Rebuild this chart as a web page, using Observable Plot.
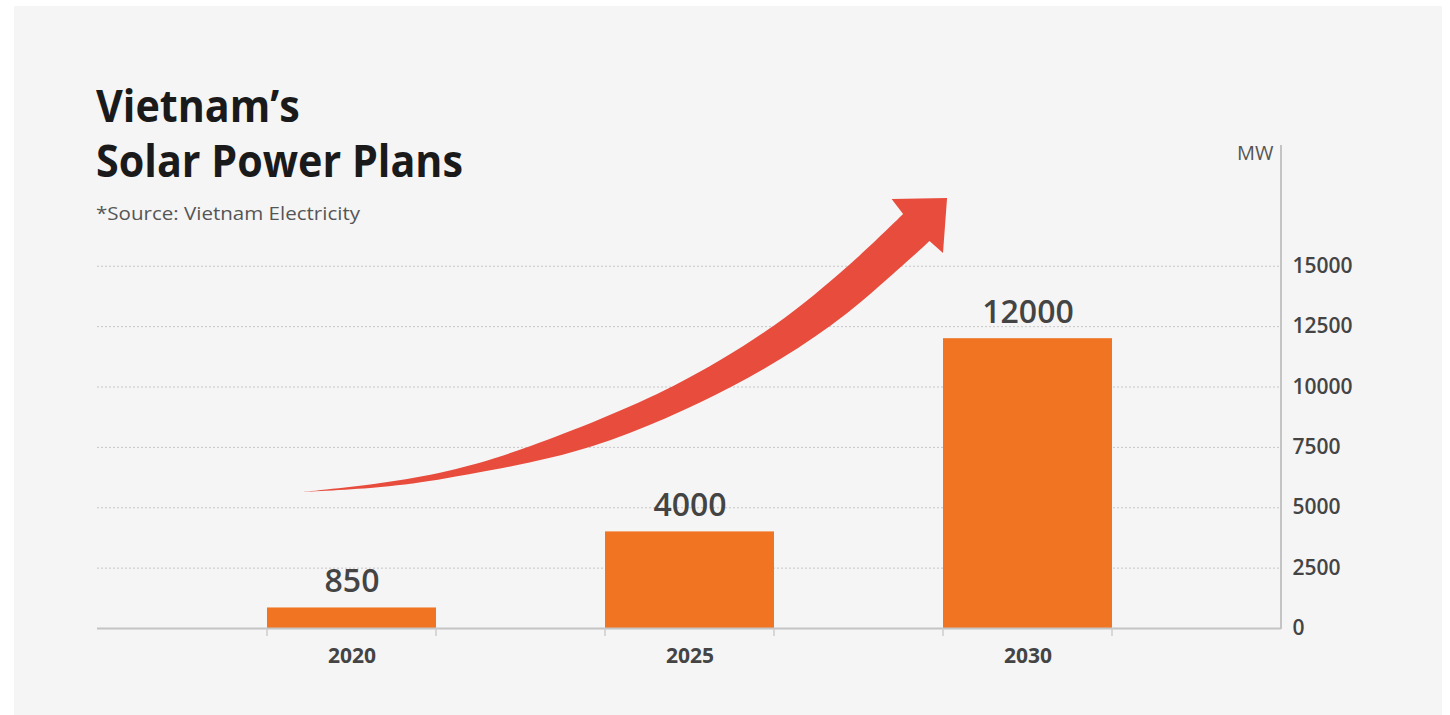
<!DOCTYPE html>
<html>
<head>
<meta charset="utf-8">
<script src="https://cdn.jsdelivr.net/npm/d3@7"></script>
<script src="https://cdn.jsdelivr.net/npm/@observablehq/plot@0.6"></script>
<style>
  html, body { margin: 0; padding: 0; background: #ffffff; }
  #wrap { position: relative; width: 1450px; height: 715px; overflow: hidden; background: #ffffff; }
  #panel { position: absolute; left: 14px; top: 6px; width: 1428px; height: 709px; background: #f5f5f5; }
  #title { position: absolute; left: 96px; top: 77px; margin: 0; font-family: "Open Sans", sans-serif; font-weight: 700;
           font-size: 45px; line-height: 55px; color: #1a1a1a; transform-origin: 0 0; white-space: nowrap; }
  #title span { display: inline-block; }
  #source { position: absolute; left: 96px; top: 204px; margin: 0; font-family: "Open Sans", sans-serif; font-weight: 400;
            font-size: 18px; line-height: 18px; color: #555; transform-origin: 0 0; white-space: nowrap; }
  #chart { position: absolute; left: 0; top: 0; }
</style>
</head>
<body>
<div id="wrap">
  <div id="panel"></div>
  <div id="chart"></div>
  <div id="title"><span id="t1">Vietnam’s</span><br><span id="t2">Solar Power Plans</span></div>
  <div id="source"><span id="s1">*Source: Vietnam Electricity</span></div>
</div>
<script>
// ---- data ----
const years = ["2020", "2025", "2030"];
const capacityMW = [850, 4000, 12000];
const yTicks = [0, 2500, 5000, 7500, 10000, 12500, 15000];
const unitLabel = ["MW"];

// decorative growth arrow, in (year, MW) data units
const arrowUpper = [[2019.28, 5632], [2020.43, 6004], [2021.42, 6501], [2022.65, 7537], [2024.76, 10021],
                    [2026.26, 12547], [2027.36, 15032], [2028.16, 17144]];
const arrowLower = [[2019.28, 5632], [2020.43, 5839], [2021.42, 6212], [2023.57, 7537], [2025.64, 10021],
                    [2027.10, 12547], [2028.16, 15032], [2028.55, 16026]];
const arrowHead = [[2027.99, 17765], [2028.81, 17806], [2028.75, 15529]];

const data = years.map((y, i) => ({year: y, mw: capacityMW[i]}));

const plot = Plot.plot({
  width: 1450,
  height: 715,
  marginLeft: 97,
  marginRight: 169,
  marginTop: 145,
  marginBottom: 87,
  style: {background: "transparent", fontFamily: "'Open Sans', sans-serif", overflow: "visible"},
  x: {type: "band", domain: years, padding: 0.5},
  y: {domain: [0, 20000]},
  marks: [
    Plot.gridY(yTicks.filter(t => t > 0), {stroke: "#c6c6c6", strokeOpacity: 1, strokeDasharray: "2,2"}),
    Plot.barY(data, {x: "year", y: "mw", fill: "#f07421"}),
    Plot.ruleY([0], {stroke: "#c4c4c4", strokeWidth: 2}),
    Plot.text(data, {x: "year", y: "mw", text: d => String(d.mw), dy: -16, lineAnchor: "bottom",
                     fontSize: 32, fontWeight: 600, fill: "#444"}),
    Plot.axisX({tickSize: 0, tickPadding: 20, fontSize: 21, fontWeight: 700, color: "#444", label: null}),
    Plot.axisY(yTicks, {anchor: "right", tickSize: 0, tickPadding: 11, fontSize: 21, fontWeight: 600, color: "#444",
                        label: null, tickFormat: d => String(d)}),
    Plot.text(unitLabel, {frameAnchor: "top-right", lineAnchor: "top", dx: -8, fontSize: 20, fill: "#555"})
  ]
});
document.getElementById("chart").appendChild(plot);

// ---- extras through the plot's scales ----
const svg = d3.select(plot);
const sx = plot.scale("x"), sy = plot.scale("y");
const bw = sx.bandwidth;
const y0 = sy.apply(0);
const axisX = sx.range[1];

// right axis line
svg.append("line")
  .attr("x1", axisX).attr("x2", axisX)
  .attr("y1", sy.apply(sy.domain[1])).attr("y2", y0 + 1)
  .attr("stroke", "#c4c4c4").attr("stroke-width", 2);

// small ticks at bar edges
years.forEach(yr => {
  const a = sx.apply(yr);
  [a, a + bw].forEach(px => {
    svg.append("line").attr("x1", px).attr("x2", px).attr("y1", y0).attr("y2", y0 + 8)
      .attr("stroke", "#cccccc").attr("stroke-width", 1.5);
  });
});

// arrow
const c0 = sx.apply(years[0]) + bw / 2, c1 = sx.apply(years[2]) + bw / 2;
const yA = +years[0], yB = +years[2];
const X = yr => c0 + (yr - yA) / (yB - yA) * (c1 - c0);
const Y = v => sy.apply(v);
const lineGen = d3.line().curve(d3.curveCatmullRom.alpha(0.5));
const up = lineGen(arrowUpper.map(p => [X(p[0]), Y(p[1])]));
const lo = lineGen(arrowLower.slice().reverse().map(p => [X(p[0]), Y(p[1])])).replace(/^M/, "L");
const head = arrowHead.map(p => `L${X(p[0])},${Y(p[1])}`).join("");
svg.append("path").attr("d", up + head + lo + "Z").attr("fill", "#e84c3d");

// ---- fit title/source widths to the reference ----
function fit(id, spanId, target) {
  const el = document.getElementById(id);
  const w = document.getElementById(spanId).getBoundingClientRect().width;
  if (w > 0) el.style.transform = `scaleX(${target / w})`;
}
fit("title", "t2", 367);
fit("source", "s1", 264);
</script>
</body>
</html>
